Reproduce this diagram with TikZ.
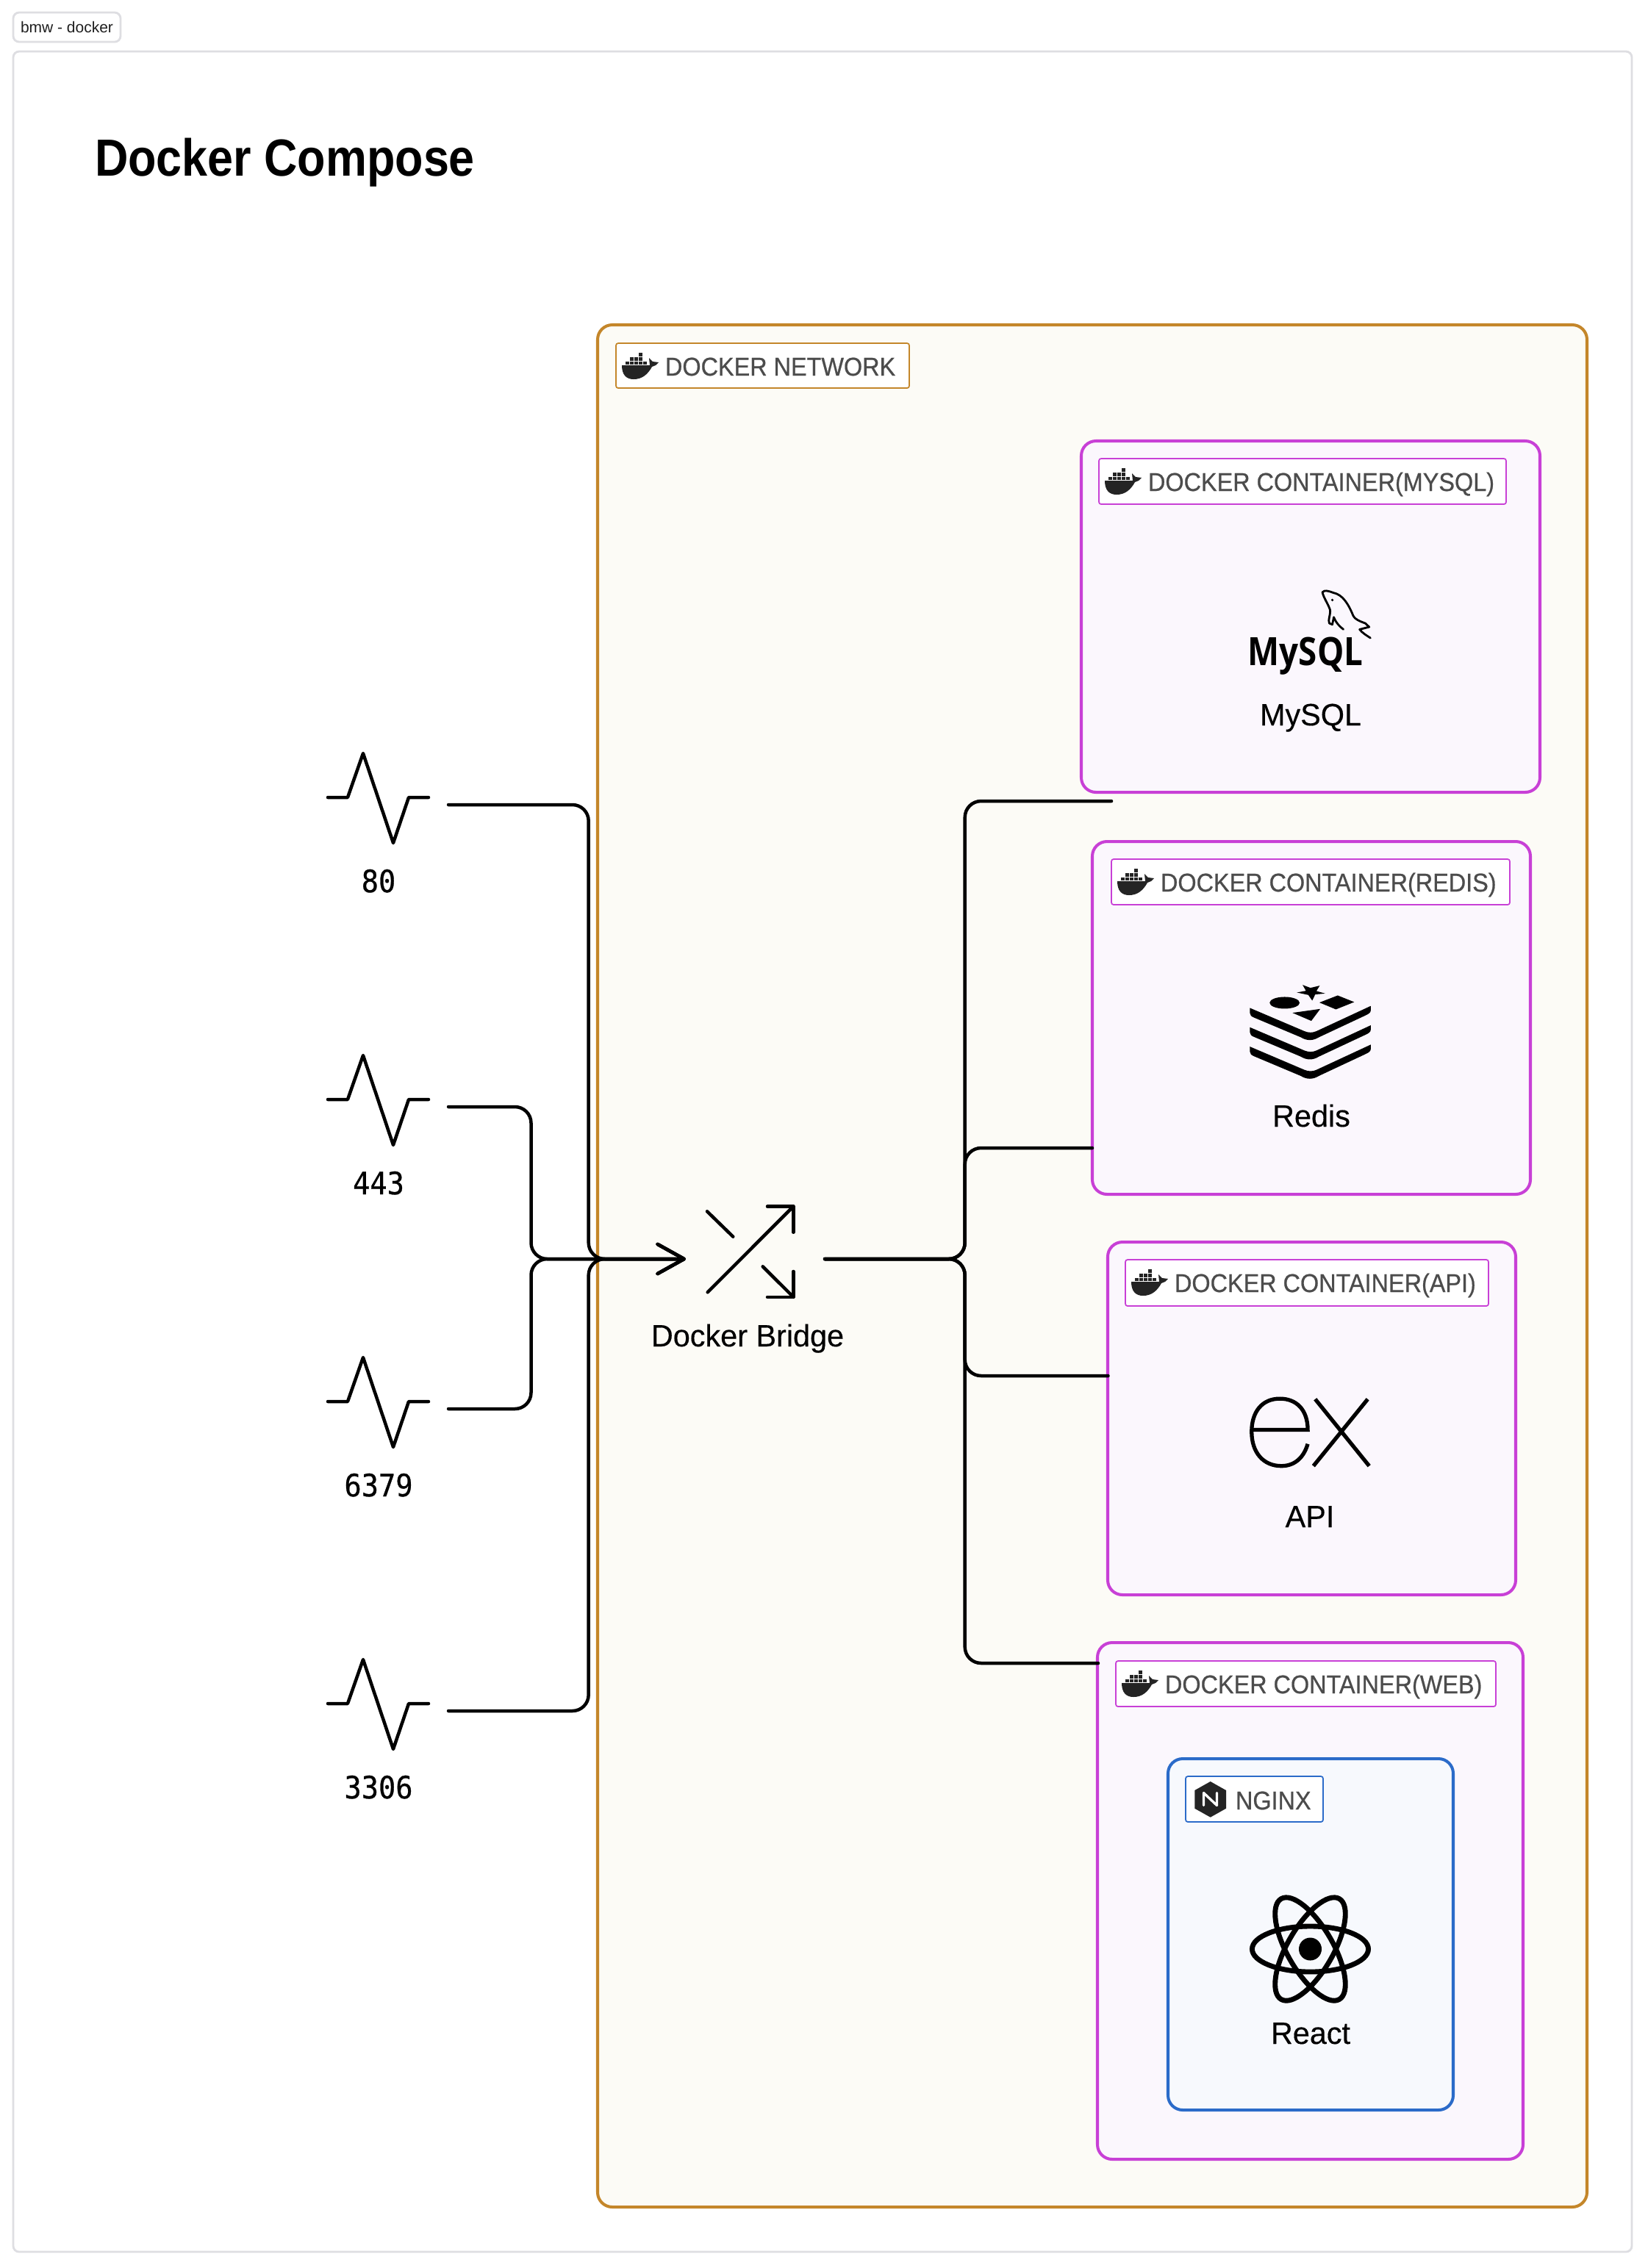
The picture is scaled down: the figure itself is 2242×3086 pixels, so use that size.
\documentclass[tikz,border=0pt]{standalone}
\usepackage{fontspec}
\usetikzlibrary{arrows.meta}
\setmainfont{Liberation Sans}
\newfontfamily\fTitle[FakeStretch=0.885]{Liberation Sans Bold}
\newfontfamily\fTag[FakeStretch=0.925,FakeBold=0.6]{Liberation Sans}
\newfontfamily\fLabel[FakeStretch=0.985,FakeBold=0.3]{Liberation Sans}
\newfontfamily\fPort[FakeStretch=0.92,FakeBold=0.6]{DejaVu Sans Mono}
\newfontfamily\fLogo[FakeStretch=0.86]{Open Sans}
\definecolor{cnet}{HTML}{C4862A}
\definecolor{cnetfill}{HTML}{FCFBF6}
\definecolor{ccon}{HTML}{C840D6}
\definecolor{cconfill}{HTML}{FBF7FD}
\definecolor{cngx}{HTML}{2B6BC9}
\definecolor{cngxfill}{HTML}{F7F9FD}
\definecolor{cframe}{HTML}{DEDEE2}
\definecolor{cicon}{HTML}{242424}
\definecolor{ctag}{HTML}{4C4C4C}
\tikzset{
  x=0.01cm,y=-0.01cm,
  plain/.style={inner sep=0pt,outer sep=0pt},
  framebox/.style={plain,draw=cframe,line width=0.8pt,fill=white,rounded corners=0.08cm},
  netbox/.style={plain,draw=cnet,line width=1.15pt,fill=cnetfill,rounded corners=0.2cm},
  conbox/.style={plain,draw=ccon,line width=1.15pt,fill=cconfill,rounded corners=0.2cm},
  ngxbox/.style={plain,draw=cngx,line width=1.15pt,fill=cngxfill,rounded corners=0.2cm},
  nettag/.style={plain,draw=cnet,line width=0.5pt,fill=white,rounded corners=0.03cm},
  contag/.style={plain,draw=ccon,line width=0.5pt,fill=white,rounded corners=0.03cm},
  ngxtag/.style={plain,draw=cngx,line width=0.5pt,fill=white,rounded corners=0.03cm},
  ghost/.style={plain},
  tagtext/.style={plain,anchor=base west,text=ctag,font=\fTag\fontsize{9.96pt}{12pt}\selectfont},
  labeltext/.style={plain,anchor=base,text=black,font=\fLabel\fontsize{11.95pt}{14pt}\selectfont},
  porttext/.style={plain,anchor=base,text=black,font=\fPort\fontsize{11.95pt}{14pt}\selectfont},
  stroke/.style={draw=black,line width=1.28pt,line cap=round,line join=round},
  wire/.style={stroke,rounded corners=0.22cm},
  wiretip/.style={wire,-{Straight Barb[length=0.36cm,width=0.40cm,round]}},
  pics/whale/.style={code={
    \fill[cicon] (0,17) -- (38,17) -- (37,7) -- (42,12) -- (50,13) -- (46,17) -- (41,19)
      .. controls (35,30) and (27,36) .. (16,36) .. controls (6,36) and (0,30) .. (0,17) -- cycle;
    \foreach \i in {0,...,4} {\fill[cicon] ({4.7+6*\i},11.5) rectangle ({10.1+6*\i},16.2);}
    \foreach \i in {1,2,3} {\fill[cicon] ({4.7+6*\i},5.7) rectangle ({10.1+6*\i},10.7);}
    \fill[cicon] (22.7,0) rectangle (28.1,4.9);
  }}
}
\newcommand{\pxnode}[6]{\node[#1,anchor=north west,minimum width={(#5-#3)*0.01cm},minimum height={(#6-#4)*0.01cm}] (#2) at (#3,#4) {};}
\newcommand{\dockertag}[7]{%
  \pxnode{#1}{#2}{#3}{#4}{#5}{#6}
  \pic at ({#3+8},{#4+13}) {whale};
  \node[tagtext] (#2text) at ({#3+67},{#4+44}) {#7};}
\newcommand{\portnode}[3]{%
  \node[ghost,minimum width=1.64cm,minimum height=1.46cm] (#1) at (528,{#3+73}) {};
  \draw[stroke] (446,{#3+63}) -- (473,{#3+63}) -- (494,{#3+3}) -- (535,{#3+125}) -- (556,{#3+63}) -- (583,{#3+63});
  \node[porttext] (#1label) at (515,{#3+192}) {#2};}
\begin{document}
\begin{tikzpicture}
\useasboundingbox (0,0) rectangle (2242,3086);
\fill[white] (0,0) rectangle (2242,3086);

% page frame and caption
\pxnode{framebox}{caption}{18}{17}{164}{57}
\node[plain,text=black!88,font=\fontsize{5.97pt}{7pt}\selectfont] (captiontext) at (91,37) {bmw - docker};
\pxnode{framebox}{frame}{18}{70}{2220}{3064}
\node[plain,anchor=base west,font=\fTitle\fontsize{20.2pt}{24pt}\selectfont] (title) at (129,239) {Docker Compose};

% network
\pxnode{netbox}{network}{813}{442}{2159}{3003}
\dockertag{nettag}{nettag}{838}{467}{1237}{528}{DOCKER NETWORK}

% containers
\pxnode{conbox}{mysql}{1471}{600}{2095}{1078}
\dockertag{contag}{mysqltag}{1495}{624}{2049}{686}{DOCKER CONTAINER(MYSQL)}
\pxnode{conbox}{redis}{1486}{1145}{2082}{1625}
\dockertag{contag}{redistag}{1512}{1169}{2054}{1231}{DOCKER CONTAINER(REDIS)}
\pxnode{conbox}{api}{1507}{1690}{2062}{2170}
\dockertag{contag}{apitag}{1531}{1714}{2025}{1777}{DOCKER CONTAINER(API)}
\pxnode{conbox}{web}{1493}{2235}{2072}{2938}
\dockertag{contag}{webtag}{1518}{2260}{2035}{2322}{DOCKER CONTAINER(WEB)}
\pxnode{ngxbox}{nginx}{1589}{2393}{1977}{2871}
\pxnode{ngxtag}{ngxtag}{1613}{2417}{1800}{2479}
\node[tagtext] (ngxtagtext) at (1681,2462) {NGINX};

% nginx hexagon
\fill[cicon] (1646.7,2424) -- (1668,2436) -- (1668,2460.7) -- (1646.7,2472.7) -- (1625.3,2460.7) -- (1625.3,2436) -- cycle;
\draw[white,line width=0.95pt,line cap=round,line join=round] (1637.5,2456.5) -- (1637.5,2439.5) -- (1655.5,2456.5) -- (1655.5,2439.5);

% MySQL logo
\node[plain,anchor=base,font=\fLogo\bfseries\fontsize{15.1pt}{18pt}\selectfont] (mysqllogo) at (1776,905) {MySQL};
\begin{scope}[shift={(1480,600)},xscale=0.408,yscale=0.333]
  \draw[black,line width=0.8pt,line join=round,line cap=round]
    (782,618) .. controls (790,608) and (800,612) .. (818,620)
    .. controls (850,628) and (868,665) .. (885,715) .. controls (890,728) and (905,736) .. (925,745)
    -- (938,760) -- (906,770) .. controls (915,785) and (930,795) .. (942,805);
  \draw[black,line width=0.8pt,line join=round,line cap=round]
    (782,618) .. controls (785,640) and (808,680) .. (808,695) .. controls (808,715) and (800,730) .. (805,745)
    -- (815,750) -- (820,720) .. controls (828,745) and (840,758) .. (852,770);
  \fill[black] (815,650) ellipse [x radius=0.044cm,y radius=0.054cm];
\end{scope}
\node[labeltext] (mysqllabel) at (1783,987) {MySQL};

% Redis logo
\begin{scope}[shift={(1480,1140)},xscale=0.408,yscale=0.333]
  \fill[black] (716,601) -- (742,613) -- (773,604) -- (762,626) -- (791,636) -- (758,640) -- (748,665) -- (735,642) -- (697,632) -- (727,625) -- cycle;
  \fill[black] (656,674) ellipse [x radius=0.5cm,y radius=0.24cm];
  \fill[black] (833,644) -- (888,671) -- (827,701) -- (772,673) -- cycle;
  \fill[black] (682,715) -- (775,699) -- (745,748) -- cycle;
  \foreach \d in {0,79,158} {
    \fill[black] (540,{695+\d}) -- (722,{790+\d}) .. controls (735,{797+\d}) and (750,{797+\d}) .. (762,{790+\d})
      -- (943,{687+\d}) -- (943,{706+\d}) .. controls (943,{714+\d}) and (936,{720+\d}) .. (925,{726+\d})
      -- (770,{815+\d}) .. controls (750,{830+\d}) and (730,{830+\d}) .. (710,{815+\d})
      -- (555,{735+\d}) .. controls (545,{730+\d}) and (540,{725+\d}) .. (540,{715+\d}) -- cycle;
  }
\end{scope}
\node[labeltext] (redislabel) at (1784,1533) {Redis};

% Express logo
\begin{scope}[shift={(1480,1680)},xscale=0.408,yscale=0.333]
  \draw[black,line width=1.5pt]
    (552,797) -- (733,797) .. controls (733,715) and (695,670) .. (640,670)
    .. controls (580,670) and (546,725) .. (546,805) .. controls (546,890) and (585,945) .. (645,945)
    .. controls (690,945) and (720,910) .. (733,855);
  \draw[black,line width=1.5pt] (758,672) -- (938,945);
  \draw[black,line width=1.5pt] (933,672) -- (752,945);
\end{scope}
\node[labeltext] (apilabel) at (1782,2078) {API};

% React logo
\coordinate (reactc) at (1782.5,2652);
\foreach \r in {0,60,120} {
  \draw[black,line width=1.95pt] (reactc) ellipse [x radius=0.79cm,y radius=0.31cm,rotate=\r];
}
\fill[black] (reactc) circle [radius=0.155cm];
\node[labeltext] (reactlabel) at (1783,2781) {React};

% bridge
\node[ghost,minimum width=1.89cm,minimum height=1.26cm] (bridge) at (1027.5,1713) {};
\draw[stroke] (962.7,1758.3) -- (1079.3,1641.5);
\draw[stroke] (1044,1641.5) -- (1079.3,1641.5) -- (1079.3,1676.7);
\draw[stroke] (962,1648.3) -- (997.3,1682.7);
\draw[stroke] (1037.7,1723.3) -- (1079.3,1764.8);
\draw[stroke] (1044,1764.8) -- (1079.3,1764.8) -- (1079.3,1730);
\node[labeltext] (bridgelabel) at (1017,1832) {Docker Bridge};

% ports
\portnode{port80}{80}{1022}
\portnode{port443}{443}{1433}
\portnode{port6379}{6379}{1844}
\portnode{port3306}{3306}{2255}

% routing points
\coordinate (busA) at (722.5,1713);
\coordinate (busB) at (800.7,1713);
\coordinate (spine) at (1312.7,1713);
\coordinate (mysqlin) at (1512,1090);
\coordinate (redisin) at (1486,1562);
\coordinate (apiin) at (1507.5,1872);
\coordinate (webin) at (1494,2263);

% connectors
\draw[wiretip] (port80.east) -| (busB) -- (bridge.west);
\draw[wiretip] (port443.east) -| (busA) -- (bridge.west);
\draw[wiretip] (port6379.east) -| (busA) -- (bridge.west);
\draw[wiretip] (port3306.east) -| (busB) -- (bridge.west);
\draw[wire] (bridge.east) -- (spine) |- (mysqlin);
\draw[wire] (bridge.east) -- (spine) |- (redisin);
\draw[wire] (bridge.east) -- (spine) |- (apiin);
\draw[wire] (bridge.east) -- (spine) |- (webin);
\end{tikzpicture}
\end{document}
